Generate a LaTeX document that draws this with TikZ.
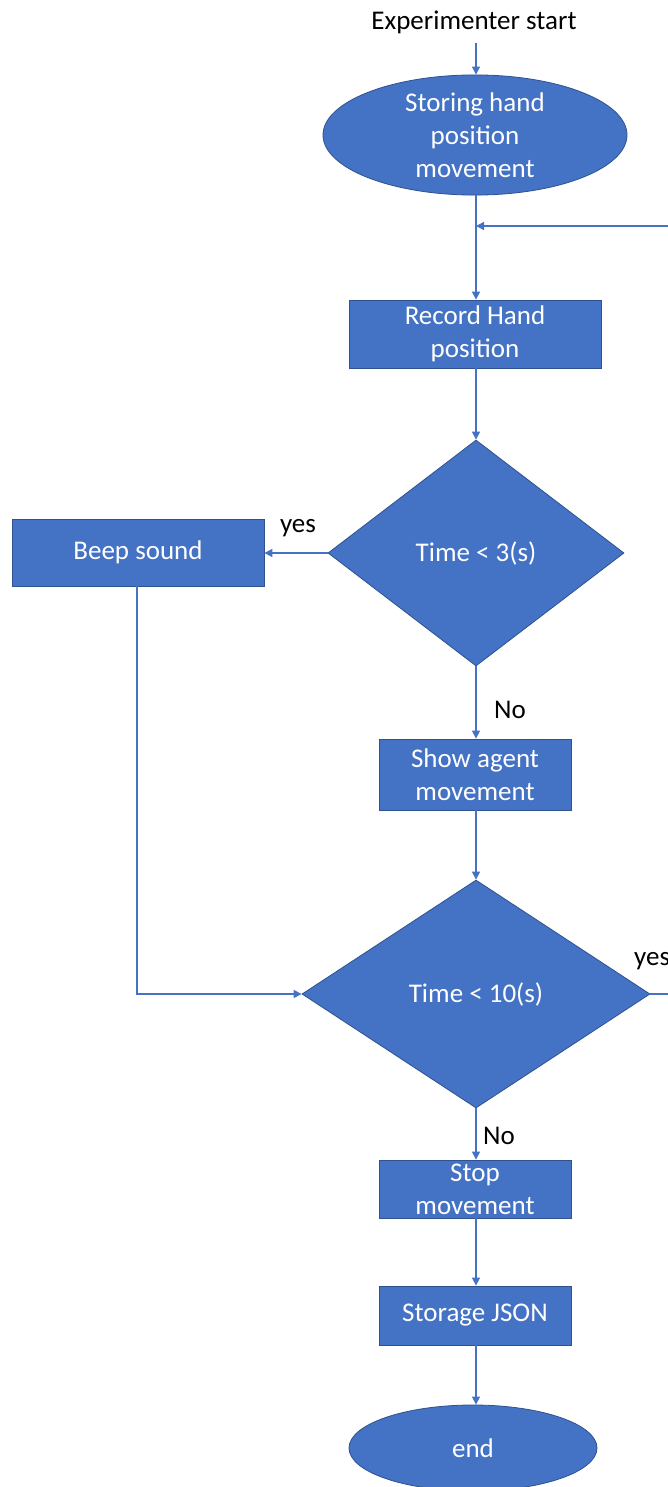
\documentclass[tikz,border=0pt]{standalone}
\usepackage{fontspec}
\setmainfont{Carlito}
\usetikzlibrary{arrows.meta,shapes.geometric}
\definecolor{fillblue}{HTML}{4472C4}
\definecolor{edgeblue}{HTML}{2F528F}
\definecolor{lineblue}{HTML}{4472C4}
\begin{document}
\begin{tikzpicture}[x=1pt,y=-1pt,
  every node/.style={font=\fontsize{27}{33}\selectfont},
  shapebox/.style={draw=edgeblue,line width=0.8pt,fill=fillblue,text=white,inner sep=0pt,align=center},
  procbox/.style={shapebox,rectangle},
  termbox/.style={shapebox,ellipse},
  decbox/.style={shapebox,diamond,aspect=1.31},
  conn/.style={draw=lineblue,line width=1.3pt,-{Triangle[length=8pt,width=8pt]}},
  plainconn/.style={draw=lineblue,line width=1.3pt},
  lbl/.style={text=black}]
\useasboundingbox (0,0) rectangle (668,1487);
\clip (0,0) rectangle (668,1487);
\fill[white] (0,0) rectangle (668,1487);

\node[lbl] (start) at (474,22) {Experimenter start};
\node[termbox,minimum width=304pt,minimum height=110pt] (store) at (475,135) {Storing hand\\position\\movement};
\coordinate (join) at (476,226);
\node[procbox,minimum width=252pt,minimum height=68pt] (record) at (475,334) {Record Hand\\position};
\node[decbox,minimum width=296pt,minimum height=226pt] (d1) at (476,553) {Time < 3(s)};
\node[procbox,minimum width=252pt,minimum height=67pt] (beep) at (138,552.5) {Beep sound};
\node[procbox,minimum width=192pt,minimum height=71pt] (show) at (475,774.5) {Show agent\\movement};
\node[decbox,minimum width=348pt,minimum height=228pt] (d2) at (476,994) {Time < 10(s)};
\node[procbox,minimum width=192pt,minimum height=58pt] (stopm) at (475,1189) {Stop\\movement};
\node[procbox,minimum width=192pt,minimum height=59pt] (json) at (475,1315.5) {Storage JSON};
\node[termbox,minimum width=248pt,minimum height=86pt] (endn) at (473,1448) {end};

\node[lbl] (yes1) at (298,528) {yes};
\node[lbl] (no1) at (510,710) {No};
\node[lbl,anchor=west,inner sep=0pt] (yes2) at (634,961) {yes};
\node[lbl] (no2) at (499,1136) {No};
\coordinate (rightout) at (700,994);

\draw[conn,shorten <=6pt] (start.south -| 476,0) -- (store.north -| 476,0);
\draw[conn] (store.south -| 476,0) -- (record.north -| 476,0);
\draw[conn] (rightout) |- (join);
\draw[plainconn] (d2.east) -- (rightout);
\draw[conn] (record.south -| 476,0) -- (d1.north);
\draw[conn] (d1.west) -- (beep.east |- d1.west);
\draw[conn] (d1.south) -- (show.north -| 476,0);
\draw[conn] (show.south -| 476,0) -- (d2.north);
\draw[conn] (beep.south -| 137,0) |- (d2.west);
\draw[conn] (d2.south) -- (stopm.north -| 476,0);
\draw[conn] (stopm.south -| 476,0) -- (json.north -| 476,0);
\draw[conn] (json.south -| 476,0) -- (endn.north -| 476,0);
\end{tikzpicture}
\end{document}
